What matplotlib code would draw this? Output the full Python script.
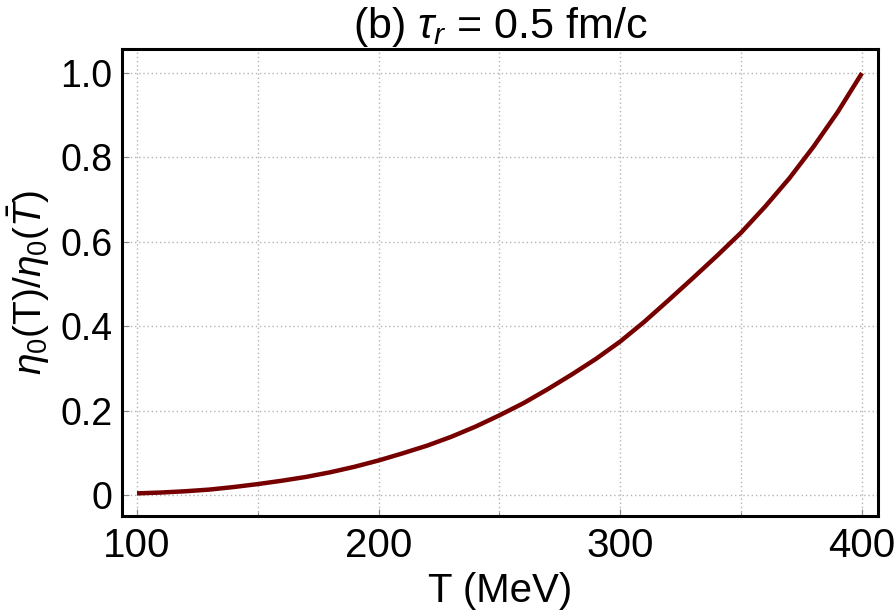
import numpy as np
import matplotlib
matplotlib.use('Agg')
import matplotlib.pyplot as plt
from matplotlib.ticker import FixedLocator, FuncFormatter

# Values
temperature = [100, 110, 120, 130, 140, 150, 160, 170, 180, 190, 200,
               210, 220, 230, 240, 250, 260, 270, 280, 290, 300,
               310, 320, 330, 340, 350, 360, 370, 380, 390, 400]
eta_ratio = [0.004, 0.006, 0.009, 0.013, 0.019, 0.026, 0.034, 0.043, 0.054, 0.067, 0.082,
             0.099, 0.117, 0.138, 0.162, 0.189, 0.218, 0.251, 0.286, 0.323, 0.364,
             0.411, 0.462, 0.514, 0.567, 0.622, 0.684, 0.751, 0.826, 0.908, 1.000]

x_major = [100, 200, 300, 400]
x_grid = [100, 150, 200, 250, 300, 350, 400]
y_major = [0, 0.2, 0.4, 0.6, 0.8, 1.0]

plt.rcParams['font.family'] = ['Liberation Sans', 'DejaVu Sans']
plt.rcParams['mathtext.fontset'] = 'custom'
plt.rcParams['mathtext.rm'] = 'Liberation Sans'
plt.rcParams['mathtext.it'] = 'Liberation Sans:italic'
plt.rcParams['mathtext.bf'] = 'Liberation Sans:bold'

fig = plt.figure(figsize=(8.94, 6.13), dpi=100)
ax = fig.add_axes([0.1365, 0.158, 0.8455, 0.762])

ax.plot(temperature, eta_ratio, color='#760000', linewidth=3.2,
        solid_capstyle='butt', solid_joinstyle='round', zorder=3)

ax.set_xlim(93.8, 406.6)
ax.set_ylim(-0.05, 1.057)

ax.xaxis.set_major_locator(FixedLocator(x_major))
ax.xaxis.set_minor_locator(FixedLocator([150, 250, 350]))
ax.yaxis.set_major_locator(FixedLocator(y_major))
ax.yaxis.set_major_formatter(FuncFormatter(lambda v, p: '0' if v == 0 else f'{v:.1f}'))

for t in x_grid:
    ax.axvline(t, color='#b4b4b4', linestyle=(0, (1, 2)), linewidth=1.0, zorder=1)
for v in y_major:
    ax.axhline(v, color='#b4b4b4', linestyle=(0, (1, 2)), linewidth=1.0, zorder=1)

ax.tick_params(axis='both', which='major', direction='in', length=5, width=0.8,
               color='#888888', pad=8)
ax.tick_params(axis='x', which='major', labelsize=29)
ax.tick_params(axis='y', which='major', labelsize=27, pad=7)
ax.tick_params(axis='x', which='minor', direction='in', length=3, width=0.8,
               color='#888888')
ax.tick_params(axis='y', which='minor', left=False)

for s in ax.spines.values():
    s.set_linewidth(2.2)
    s.set_color('black')

ax.set_xlabel('T (MeV)', fontsize=29, labelpad=5)
ax.set_ylabel(r'$\eta_0$(T)/$\eta_0(\bar{T})$', fontsize=28)
ax.yaxis.set_label_coords(-0.092, 0.5)
ax.set_title(r'(b) $\tau_r$ = 0.5 fm/c', fontsize=31, pad=6)

fig.savefig('out.png', dpi=100)
